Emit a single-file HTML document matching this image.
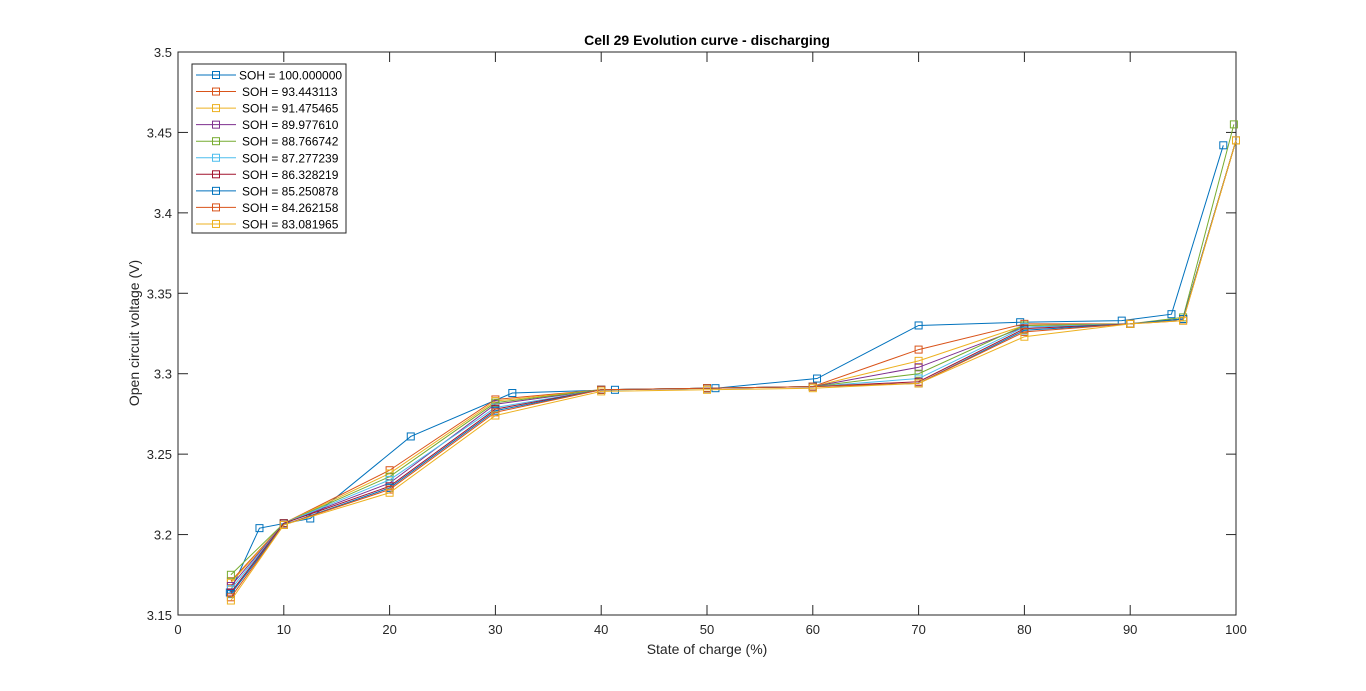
<!DOCTYPE html>
<html><head><meta charset="utf-8"><style>
body{margin:0;background:#fff;}
svg{display:block;font-family:"Liberation Sans",sans-serif;}
</style></head><body>
<svg id="chart" width="1366" height="691"></svg>
<script>
const xTicks=[0,10,20,30,40,50,60,70,80,90,100];
const yTicks=[3.15,3.2,3.25,3.3,3.35,3.4,3.45,3.5];
const yTickLabels=["3.15","3.2","3.25","3.3","3.35","3.4","3.45","3.5"];
const soh=["100.000000","93.443113","91.475465","89.977610","88.766742","87.277239","86.328219","85.250878","84.262158","83.081965"];
const colors=["#0072BD","#D95319","#EDB120","#7E2F8E","#77AC30","#4DBEEE","#A2142F","#0072BD","#D95319","#EDB120"];
const xFirst=[4.9,7.7,12.5,22,31.6,41.3,50.8,60.4,70,79.6,89.2,93.9,98.8];
const yFirst=[3.164,3.204,3.210,3.261,3.288,3.290,3.291,3.297,3.330,3.332,3.333,3.337,3.442];
const xOthers=[5,10,20,30,40,50,60,70,80,90,95,100];
const yS2=[3.171,3.207,3.240,3.284,3.290,3.291,3.292,3.315,3.331,3.331,3.334,3.445];
const yS3=[3.170,3.207,3.238,3.283,3.290,3.291,3.292,3.308,3.330,3.331,3.334,3.445];
const yS4=[3.168,3.207,3.232,3.281,3.290,3.291,3.292,3.304,3.329,3.331,3.334,3.445];
const yS5=[3.175,3.207,3.236,3.282,3.290,3.291,3.292,3.300,3.330,3.331,3.335,3.455];
const yS6=[3.166,3.207,3.234,3.279,3.290,3.291,3.292,3.297,3.329,3.331,3.334,3.445];
const yS7=[3.164,3.207,3.230,3.278,3.290,3.291,3.292,3.295,3.328,3.331,3.334,3.445];
const yS8=[3.163,3.206,3.229,3.277,3.290,3.291,3.292,3.294,3.327,3.331,3.334,3.445];
const yS9=[3.161,3.206,3.228,3.276,3.290,3.291,3.292,3.294,3.326,3.331,3.333,3.445];
const yS10=[3.159,3.206,3.226,3.274,3.289,3.290,3.291,3.294,3.323,3.331,3.333,3.445];
const seriesY=[yFirst,yS2,yS3,yS4,yS5,yS6,yS7,yS8,yS9,yS10];

const NS="http://www.w3.org/2000/svg";
const svg=document.getElementById('chart');
const L=178,R=1236,T=52,B=615;
const X=v=>L+(v-0)/100*(R-L);
const Y=v=>B-(v-3.15)/(0.35)*(B-T);
function mk(tag,attrs,parent){const e=document.createElementNS(NS,tag);for(const k in attrs)e.setAttribute(k,attrs[k]);(parent||svg).appendChild(e);return e;}

const box=mk('rect',{x:L,y:T,width:R-L,height:B-T,fill:'#fff',stroke:'#262626','stroke-width':1});



xTicks.forEach(v=>{
  const t=mk('line',{x1:X(v),x2:X(v),y1:B,y2:B-10,stroke:'#262626'});
  
  
  const t2=mk('line',{x1:X(v),x2:X(v),y1:T,y2:T+10,stroke:'#262626'});
  
  
  const l=mk('text',{x:X(v),y:B+19,'text-anchor':'middle','font-size':13,fill:'#262626'});
  l.textContent=v;
  
  
});
yTicks.forEach((v,i)=>{
  const t=mk('line',{x1:L,x2:L+10,y1:Y(v),y2:Y(v),stroke:'#262626'});
  
  
  const t2=mk('line',{x1:R,x2:R-10,y1:Y(v),y2:Y(v),stroke:'#262626'});
  
  
  const l=mk('text',{x:L-6,y:Y(v)+5,'text-anchor':'end','font-size':13,fill:'#262626'});
  l.textContent=yTickLabels[i];
  
  
});

seriesY.forEach((ys,si)=>{
  const xs=si===0?xFirst:xOthers.map((x,i)=>(si===4&&i===11)?99.8:x);
  const g=mk('g',{});
  
  
  const pts=ys.map((y,i)=>X(xs[i])+','+Y(y)).join(' ');
  mk('polyline',{points:pts,fill:'none',stroke:colors[si],'stroke-width':1},g);
  ys.forEach((y,i)=>{
    const m=mk('rect',{x:X(xs[i])-3.5,y:Y(y)-3.5,width:7,height:7,fill:'none',stroke:colors[si],'stroke-width':1},g);
    
    
  });
});

const title=mk('text',{x:707,y:45,'text-anchor':'middle','font-size':14,'font-weight':'bold',fill:'#000'});
title.textContent='Cell 29 Evolution curve - discharging';


const xt=mk('text',{x:707,y:654,'text-anchor':'middle','font-size':14,fill:'#262626'});
xt.textContent='State of charge (%)';


const yt=mk('text',{x:0,y:0,'text-anchor':'middle','font-size':14,fill:'#262626',transform:'translate(139,333) rotate(-90)'});
yt.textContent='Open circuit voltage (V)';



const leg=mk('g',{});


mk('rect',{x:192,y:64,width:154,height:169,fill:'#fff',stroke:'#262626','stroke-width':1},leg);
soh.forEach((s,i)=>{
  const yy=75+i*16.55;
  const e=mk('g',{},leg);
  
  
  mk('line',{x1:196,x2:236,y1:yy,y2:yy,stroke:colors[i]},e);
  mk('rect',{x:212.5,y:yy-3.5,width:7,height:7,fill:'none',stroke:colors[i]},e);
  const t=mk('text',{x:i===0?239:242,y:yy+4.5,'font-size':12,fill:'#000'},e);
  t.textContent='SOH = '+s;
});
</script>
</body></html>
